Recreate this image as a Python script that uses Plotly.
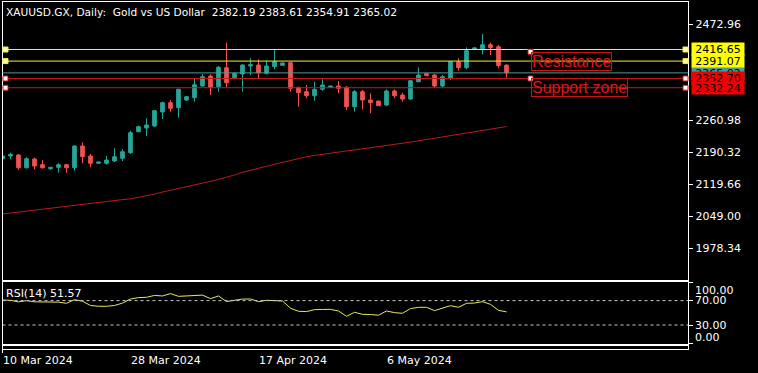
import plotly.graph_objects as go

W, H = 758, 373

dates = ["2024-03-10", "2024-03-11", "2024-03-12", "2024-03-13", "2024-03-14", "2024-03-15",
         "2024-03-17", "2024-03-18", "2024-03-19", "2024-03-20", "2024-03-21", "2024-03-22",
         "2024-03-24", "2024-03-25", "2024-03-26", "2024-03-27", "2024-03-28", "2024-03-31",
         "2024-04-01", "2024-04-02", "2024-04-03", "2024-04-04", "2024-04-05", "2024-04-07",
         "2024-04-08", "2024-04-09", "2024-04-10", "2024-04-11", "2024-04-12", "2024-04-14",
         "2024-04-15", "2024-04-16", "2024-04-17", "2024-04-18", "2024-04-19", "2024-04-21",
         "2024-04-22", "2024-04-23", "2024-04-24", "2024-04-25", "2024-04-26", "2024-04-28",
         "2024-04-29", "2024-04-30", "2024-05-01", "2024-05-02", "2024-05-03", "2024-05-05",
         "2024-05-06", "2024-05-07", "2024-05-08", "2024-05-09", "2024-05-10", "2024-05-12",
         "2024-05-13", "2024-05-14", "2024-05-15", "2024-05-16", "2024-05-17", "2024-05-19",
         "2024-05-20", "2024-05-21", "2024-05-22", "2024-05-23"]

open_ = [2175.5, 2181.5, 2183.7, 2155.6, 2174.9, 2162.3, 2153.4, 2156.5, 2162.3, 2155.6,
         2203.6, 2181.5, 2165.4, 2165.4, 2170.4, 2176.4, 2188.8, 2235.2, 2243.3, 2247.7,
         2278.6, 2299.2, 2288.1, 2305.1, 2310.2, 2336.0, 2358.1, 2334.5, 2376.4, 2354.4,
         2362.5, 2380.2, 2382.4, 2364.1, 2378.7, 2381.8, 2387.5, 2333.2, 2323.5, 2314.6,
         2328.8, 2333.2, 2336.0, 2333.2, 2290.3, 2323.5, 2305.1, 2302.9, 2293.9, 2325.0,
         2316.2, 2307.3, 2345.5, 2363.2, 2360.3, 2336.0, 2353.0, 2389.7, 2376.4, 2417.9,
         2418.4, 2427.3, 2422.8, 2382.19]
high = [2182.6, 2188.8, 2185.9, 2178.6, 2177.7, 2172.6, 2157.0, 2165.4, 2163.5, 2204.5,
        2211.7, 2185.9, 2168.8, 2181.5, 2198.5, 2196.3, 2237.4, 2248.4, 2264.7, 2282.5,
        2301.4, 2305.1, 2329.5, 2314.0, 2351.5, 2362.5, 2361.9, 2380.2, 2431.7, 2365.5,
        2384.0, 2397.2, 2395.0, 2391.9, 2417.1, 2387.5, 2388.0, 2334.0, 2338.2, 2345.5,
        2350.8, 2336.5, 2347.1, 2336.0, 2327.2, 2327.2, 2319.9, 2303.5, 2328.8, 2328.8,
        2321.3, 2348.5, 2377.3, 2364.0, 2362.5, 2360.3, 2390.5, 2397.2, 2421.5, 2420.5,
        2450.9, 2431.7, 2426.6, 2383.61]
low = [2173.8, 2174.2, 2150.6, 2153.9, 2152.1, 2153.4, 2151.2, 2144.6, 2144.6, 2149.0,
       2165.4, 2156.5, 2164.8, 2162.3, 2168.2, 2170.4, 2185.9, 2234.0, 2225.6, 2246.2,
       2263.2, 2279.3, 2266.0, 2302.9, 2301.4, 2335.0, 2316.2, 2323.5, 2333.2, 2352.5,
       2323.5, 2360.3, 2353.0, 2362.0, 2372.9, 2381.0, 2323.5, 2290.3, 2308.9, 2303.6,
       2325.7, 2332.5, 2319.9, 2283.0, 2279.3, 2284.6, 2275.8, 2292.0, 2292.0, 2308.9,
       2301.4, 2305.1, 2344.5, 2358.0, 2332.3, 2333.2, 2349.3, 2369.8, 2372.9, 2417.5,
       2406.0, 2404.5, 2375.1, 2354.91]
close = [2181.5, 2185.2, 2155.6, 2175.5, 2159.4, 2155.6, 2156.5, 2162.3, 2155.6, 2203.6,
         2180.0, 2165.4, 2168.2, 2172.6, 2180.0, 2190.9, 2232.9, 2246.2, 2249.9, 2281.5,
         2299.2, 2286.8, 2328.8, 2312.4, 2338.9, 2356.6, 2333.2, 2377.3, 2343.3, 2364.1,
         2382.4, 2383.1, 2365.4, 2380.2, 2389.7, 2386.8, 2331.0, 2321.3, 2314.6, 2328.8,
         2338.2, 2336.0, 2331.0, 2290.3, 2323.5, 2305.1, 2299.2, 2292.5, 2325.0, 2314.6,
         2307.3, 2347.8, 2360.3, 2358.8, 2336.0, 2356.6, 2389.7, 2376.4, 2414.0, 2420.0,
         2427.3, 2420.6, 2380.9, 2365.02]

ma = [2053.4, 2055.6, 2057.8, 2060.0, 2062.7, 2064.9, 2066.9, 2068.9, 2071.1, 2073.3,
      2075.9, 2077.7, 2079.0, 2081.0, 2083.2, 2085.2, 2087.0, 2090.1, 2093.2, 2097.4,
      2102.0, 2105.7, 2109.7, 2113.9, 2117.9, 2121.2, 2125.6, 2130.0, 2134.2, 2139.5,
      2145.7, 2150.6, 2154.5, 2158.7, 2163.4, 2167.6, 2172.2, 2176.4, 2179.7, 2182.6,
      2185.5, 2188.1, 2190.3, 2192.7, 2194.9, 2197.2, 2199.6, 2201.8, 2204.0, 2206.6,
      2209.5, 2212.2, 2215.0, 2217.9, 2220.8, 2223.6, 2226.5, 2229.2, 2232.3, 2234.9,
      2237.8, 2240.7, 2243.8, 2246.6]

rsi = [71.0, 70.5, 68.0, 70.0, 68.0, 67.5, 67.5, 67.5, 65.6, 71.6,
       69.0, 62.0, 60.7, 60.7, 62.0, 66.0, 72.7, 74.9, 75.4, 78.5,
       77.6, 81.5, 77.0, 77.5, 78.0, 79.0, 73.2, 77.6, 68.5, 70.5,
       72.5, 72.7, 68.3, 70.5, 69.6, 69.4, 57.5, 52.5, 52.0, 55.2,
       55.5, 55.7, 53.0, 44.3, 50.8, 47.5, 47.2, 46.0, 53.0, 50.3,
       49.2, 57.0, 59.0, 59.0, 53.6, 58.0, 61.7, 59.0, 65.6, 66.0,
       68.3, 63.9, 54.0, 51.57]

price_ticks = [1978.34, 2049.00, 2119.66, 2190.32, 2260.98, 2472.96]
rsi_ticks = [100, 70, 30, 0]
rsi_levels = [70, 30]
tick_dates = ["2024-03-10", "2024-03-28", "2024-04-17", "2024-05-06"]
tick_text = ["10 Mar 2024", "28 Mar 2024", "17 Apr 2024", "6 May 2024"]

bid = 2365.02
resistance = [2416.65, 2391.07]
support = [2352.70, 2332.24]
text_labels = ["Resistance", "Support zone"]
text_prices = [2411.6, 2352.70]
text_bar = [66, 66]

title = "XAUUSD.GX, Daily:\u00a0\u00a0Gold vs US Dollar\u00a0\u00a02382.19 2383.61 2354.91 2365.02"

# ---- layout geometry (pixels) ----
def px_x(x):
    return x / W

def px_y(y):
    return 1 - y / H

X0, X1 = 2.5, 688.3
dom_x = [px_x(X0), px_x(X1)]
main_dom = [px_y(280), px_y(1.7)]
rsi_dom = [px_y(344), px_y(281.7)]
strip_dom = [px_y(349), px_y(346)]
bar_px = 8.0
xr = [0, (X1 - X0) / bar_px]

FONT = "DejaVu Sans"
UP, DN = "#26a69a", "#ef5350"
YEL, RED, TEAL = "#f0f03c", "#c81818", "#4f9a92"

fig = go.Figure()
fig.add_trace(go.Candlestick(
    x=dates, open=open_, high=high, low=low, close=close,
    increasing=dict(line=dict(color=UP, width=1), fillcolor=UP),
    decreasing=dict(line=dict(color=DN, width=1), fillcolor=DN),
    xaxis="x", yaxis="y", showlegend=False, hoverinfo="skip"))
fig.add_trace(go.Scatter(x=dates, y=ma, mode="lines", line=dict(color="#b81c1c", width=1),
                         xaxis="x", yaxis="y", showlegend=False, hoverinfo="skip"))
fig.add_trace(go.Scatter(x=dates, y=rsi, mode="lines", line=dict(color="#e8e85a", width=1),
                         xaxis="x2", yaxis="y2", showlegend=False, hoverinfo="skip"))

axis_common = dict(showgrid=False, zeroline=False, showline=True, mirror=True,
                   linecolor="white", linewidth=1, fixedrange=True)

fig.update_layout(
    width=W, height=H, margin=dict(l=0, r=0, t=0, b=0),
    paper_bgcolor="black", plot_bgcolor="black",
    boxgap=0.35,
    xaxis=dict(domain=dom_x, anchor="y", type="category", range=xr,
               showticklabels=False, ticks="", rangeslider=dict(visible=False), **axis_common),
    yaxis=dict(domain=main_dom, anchor="x", side="right", range=[1907.7, 2522.2],
               tickvals=price_ticks, ticktext=[f"{v:.2f}" for v in price_ticks],
               ticks="outside", ticklen=4, tickcolor="white",
               tickfont=dict(family=FONT, size=11, color="white"), **axis_common),
    xaxis2=dict(domain=dom_x, anchor="y2", type="category", range=xr, matches="x",
                showticklabels=False, ticks="", **axis_common),
    yaxis2=dict(domain=rsi_dom, anchor="x2", side="right", range=[-1.15, 101],
                tickvals=rsi_ticks, ticks="outside", ticklen=4, tickcolor="white",
                showticklabels=False, **axis_common),
    xaxis3=dict(domain=dom_x, anchor="y3", type="category", range=xr,
                tickvals=tick_dates, ticks="outside", ticklen=3, tickcolor="white",
                showticklabels=False, **axis_common),
    yaxis3=dict(domain=strip_dom, anchor="x3", range=[0, 1], showticklabels=False,
                ticks="", **axis_common),
)
fig.add_trace(go.Scatter(x=[dates[0]], y=[None], xaxis="x3", yaxis="y3",
                         showlegend=False, hoverinfo="skip"))

shapes = []
anns = []

def hline(level, color):
    shapes.append(dict(type="line", xref="paper", yref="y", x0=dom_x[0], x1=dom_x[1],
                       y0=level, y1=level, line=dict(color=color, width=1), layer="above"))

def handle(xpaper, level, color, fill="white"):
    shapes.append(dict(type="rect", xref="paper", yref="y", xsizemode="pixel", ysizemode="pixel",
                       xanchor=xpaper, yanchor=level, x0=-2.5, x1=2.5, y0=-2.5, y1=2.5,
                       fillcolor=fill, line=dict(color=color, width=1), layer="above"))

hline(bid, TEAL)
for lv in resistance:
    hline(lv, YEL)
for lv in support:
    hline(lv, RED)
for lv in resistance:
    handle(px_x(5.5), lv, YEL, "#ffff9a")
    handle(px_x(685.5), lv, YEL, "#ffff9a")
for lv in support:
    handle(px_x(5.5), lv, RED)
    handle(px_x(685.5), lv, RED)

# RSI dotted levels
for lv in rsi_levels:
    shapes.append(dict(type="line", xref="paper", yref="y2", x0=dom_x[0], x1=dom_x[1],
                       y0=lv, y1=lv, line=dict(color="#c8c8c8", width=1, dash="3px,3px")))

# text objects
for t, p, b in zip(text_labels, text_prices, text_bar):
    anns.append(dict(text=t, xref="x", yref="y", x=b, y=p, xanchor="left", yanchor="top",
                     showarrow=False, font=dict(family="Liberation Sans", size=16, color="#e01414"),
                     bordercolor="#c81414", borderwidth=1, borderpad=0))
    shapes.append(dict(type="rect", xref="x", yref="y", xsizemode="pixel", ysizemode="pixel",
                       xanchor=b, yanchor=p, x0=-2.5, x1=2.5, y0=-2.5, y1=2.5,
                       fillcolor="white", line=dict(color=RED, width=1), layer="above"))

# price label boxes on right axis
def price_box(level, bg, fg="black"):
    anns.append(dict(text=f"{level:.2f}", xref="paper", yref="y", x=px_x(691), y=level,
                     xanchor="left", yanchor="middle", showarrow=False, width=52, height=12,
                     bgcolor=bg, borderpad=0, align="center",
                     font=dict(family=FONT, size=11, color=fg)))

price_box(bid, TEAL)
for lv in resistance:
    price_box(lv, "#ffff00")
for lv in support:
    price_box(lv, "#f00000")

# RSI labels
rsi_anchor = {100: "top", 70: "middle", 30: "middle", 0: "bottom"}
rsi_shift = {100: 0, 70: 0, 30: 0, 0: -3}
for v in rsi_ticks:
    anns.append(dict(text=f"{v:.2f}", xref="paper", yref="y2", x=px_x(693), y=v,
                     xanchor="left", yanchor=rsi_anchor[v], yshift=rsi_shift[v], showarrow=False,
                     font=dict(family=FONT, size=11, color="white")))

anns.append(dict(text=f"RSI(14) {rsi[-1]:.2f}", xref="paper", yref="paper", x=px_x(4), y=px_y(293),
                 xanchor="left", yanchor="middle", showarrow=False,
                 font=dict(family=FONT, size=11, color="white")))

anns.append(dict(text=title, xref="paper", yref="paper", x=px_x(4), y=px_y(12),
                 xanchor="left", yanchor="middle", showarrow=False,
                 font=dict(family=FONT, size=10.6, color="white")))

for d, t in zip(tick_dates, tick_text):
    anns.append(dict(text=t, xref="x3", yref="paper", x=dates.index(d), y=px_y(360),
                     xanchor="left", yanchor="middle", showarrow=False, xshift=-2,
                     font=dict(family=FONT, size=11, color="white")))

fig.update_layout(shapes=shapes, annotations=anns)
fig.write_html("out.html")
